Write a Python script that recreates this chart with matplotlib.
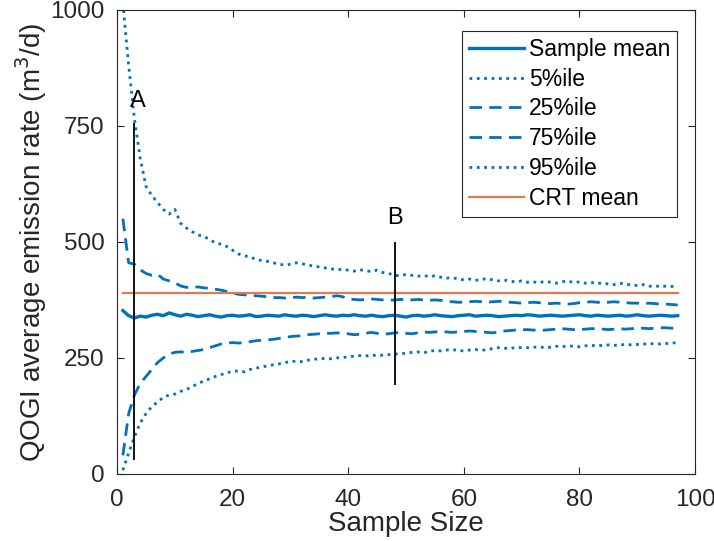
import numpy as np
import matplotlib.pyplot as plt

plt.rcParams['font.family'] = ['Liberation Sans', 'DejaVu Sans']

sample_size = np.arange(1, 98)

sample_mean = [
    352, 341, 336, 340, 338, 342, 344, 341, 347, 343,
    340, 344, 342, 339, 341, 343, 340, 338, 341, 342,
    340, 341, 343, 339, 340, 342, 341, 340, 343, 341,
    340, 342, 341, 339, 341, 343, 341, 340, 342, 341,
    343, 341, 340, 342, 340, 339, 341, 342, 340, 338,
    341, 342, 340, 341, 343, 341, 340, 339, 341, 342,
    343, 340, 341, 342, 341, 339, 340, 341, 342, 341,
    343, 342, 340, 341, 342, 341, 340, 341, 342, 343,
    341, 340, 342, 341, 340, 341, 342, 340, 341, 343,
    341, 340, 341, 342, 341, 340, 341]

p5 = [
    8, 45, 80, 110, 130, 145, 155, 165, 170, 172,
    178, 182, 188, 195, 200, 205, 210, 214, 218, 221,
    222, 220, 225, 228, 230, 233, 235, 237, 240, 242,
    243, 242, 245, 247, 248, 249, 248, 250, 251, 252,
    254, 255, 254, 256, 255, 256, 257, 258, 259, 260,
    262, 263, 261, 264, 266, 265, 267, 268, 266, 265,
    267, 268, 266, 268, 270, 272, 271, 270, 273, 272,
    272, 273, 274, 272, 273, 275, 274, 276, 275, 274,
    276, 277, 276, 277, 278, 277, 278, 279, 278, 279,
    280, 280, 281, 280, 281, 282, 283]

p25 = [
    40, 130, 170, 195, 210, 225, 240, 250, 258, 262,
    263, 262, 264, 266, 268, 272, 276, 280, 282, 283,
    282, 283, 285, 287, 288, 289, 290, 292, 294, 296,
    297, 298, 300, 301, 302, 303, 303, 304, 303, 302,
    300, 301, 303, 305, 303, 301, 302, 304, 305, 303,
    302, 304, 306, 305, 306, 307, 306, 305, 306, 307,
    308, 307, 306, 305, 304, 306, 308, 309, 310, 311,
    311, 310, 309, 310, 311, 312, 313, 312, 311, 311,
    312, 313, 313, 312, 311, 312, 313, 312, 313, 314,
    314, 313, 314, 315, 315, 314, 315]

p75 = [
    550, 455, 452, 440, 432, 428, 430, 420, 416, 412,
    405, 402, 402, 403, 401, 400, 398, 396, 393, 390,
    387, 386, 385, 384, 383, 382, 380, 380, 379, 380,
    381, 380, 381, 379, 380, 381, 382, 384, 382, 377,
    376, 375, 376, 377, 376, 375, 374, 375, 376, 376,
    375, 376, 375, 374, 375, 374, 372, 371, 370, 370,
    371, 372, 371, 370, 371, 372, 371, 370, 369, 368,
    369, 370, 369, 368, 367, 368, 367, 366, 367, 369,
    370, 371, 370, 369, 370, 371, 370, 369, 368, 368,
    367, 368, 367, 366, 366, 365, 364]

p95 = [
    1015, 880, 765, 680, 620, 600, 585, 570, 560, 570,
    540, 530, 522, 515, 512, 505, 498, 495, 490, 482,
    474, 470, 468, 462, 460, 458, 455, 452, 450, 452,
    455, 453, 450, 448, 446, 444, 442, 440, 441, 439,
    437, 440, 438, 436, 439, 434, 432, 428, 427, 430,
    428, 426, 428, 425, 427, 424, 422, 423, 420, 418,
    420, 417, 419, 421, 418, 416, 418, 415, 414, 416,
    413, 414, 412, 415, 413, 411, 414, 416, 412, 414,
    411, 413, 410, 412, 409, 408, 411, 409, 407, 406,
    408, 404, 406, 403, 405, 404, 405]

crt_mean = 390

# marker lines A and B
mark_x = [3, 48]
mark_lo = [30, 192]
mark_hi = [756, 500]
mark_names = ['A', 'B']

blue = '#0072BD'
orange = '#E07850'
dark = '#262626'

fig = plt.figure(figsize=(7.14, 5.41), dpi=100)
ax = fig.add_axes([0.164, 0.124, 0.8095, 0.8577])

ax.plot(sample_size, sample_mean, color=blue, lw=2.4, label='Sample mean')
ax.plot(sample_size, p5, color=blue, lw=2, ls=':', label='5%ile')
ax.plot(sample_size, p25, color=blue, lw=2, ls=(0, (4.5, 2.6)), label='25%ile')
ax.plot(sample_size, p75, color=blue, lw=2, ls=(0, (4.5, 2.6)), label='75%ile')
ax.plot(sample_size, p95, color=blue, lw=2, ls=':', label='95%ile')
ax.plot([sample_size[0], sample_size[-1]], [crt_mean, crt_mean],
        color=orange, lw=1.6, label='CRT mean')

ax.vlines(mark_x, mark_lo, mark_hi, color='black', lw=1.3)
ax.text(mark_x[0] + 0.6, 803, mark_names[0], fontsize=17, ha='center', va='center')
ax.text(mark_x[1], 552, mark_names[1], fontsize=17, ha='center', va='center')

ax.set_xlim(0, 100)
ax.set_ylim(0, 1000)
ax.set_xticks([0, 20, 40, 60, 80, 100])
ax.set_yticks([0, 250, 500, 750, 1000])
ax.tick_params(direction='in', length=5, width=0.8, top=True, right=True,
               labelsize=17.5, colors=dark, labelcolor=dark)
ax.tick_params(axis='x', pad=11)
ax.tick_params(axis='y', pad=9)
for s in ax.spines.values():
    s.set_color(dark)
    s.set_linewidth(0.8)

ax.set_xlabel('Sample Size', fontsize=20, color=dark, labelpad=0)
ax.set_ylabel('QOGI average emission rate (m$^3$/d)', fontsize=20, color=dark, labelpad=1)

leg = ax.legend(loc='upper right', bbox_to_anchor=(0.969, 0.955), borderaxespad=0,
                fontsize=16.5, handlelength=2.4, handletextpad=0.2,
                labelspacing=0.3, fancybox=False, framealpha=1, borderpad=0.3)
leg.get_frame().set_edgecolor(dark)
leg.get_frame().set_linewidth(0.8)

fig.savefig('out.png', dpi=100)
